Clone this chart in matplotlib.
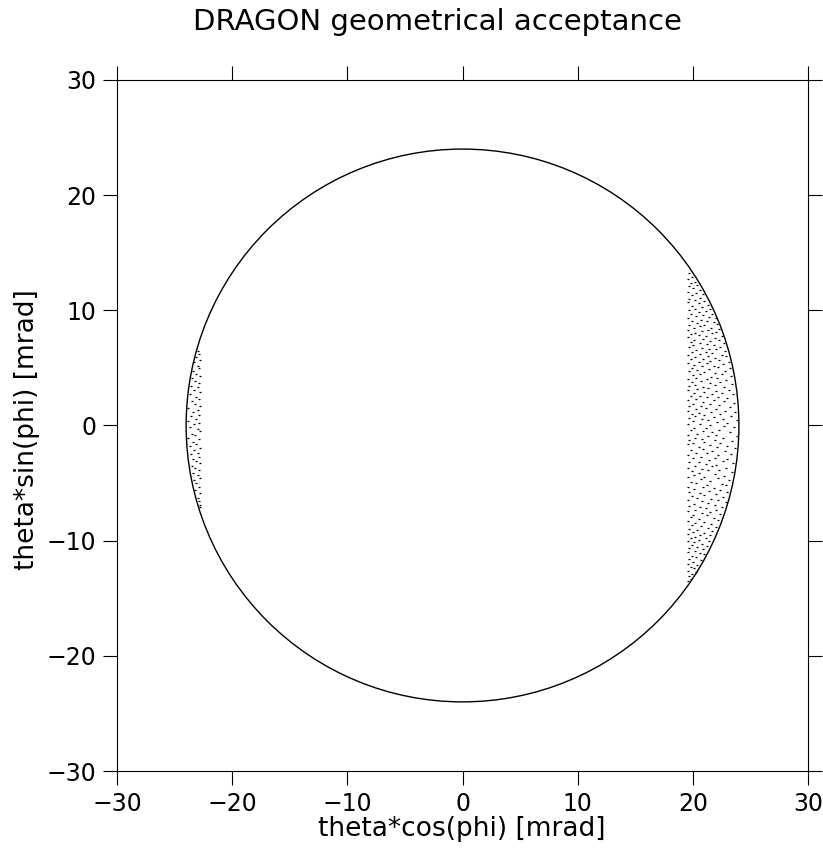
import matplotlib
matplotlib.use("Agg")
import matplotlib.pyplot as plt
from matplotlib.patches import Circle

# acceptance boundary (mrad)
circle_radius = 24.0
axis_limits = (-30, 30)
tick_values = [-30, -20, -10, 0, 10, 20, 30]

# accepted events, right-hand band: (theta*cos(phi), theta*sin(phi)) in mrad
right_pts = [
    (19.7, 13.2), (19.9, 12.9), (19.6, 12.7), (20.2, 12.5), (19.8, 12.4), (20.4, 12.2), (19.7, 12.1),
    (20.0, 11.9), (20.6, 11.8), (19.6, 11.6), (20.3, 11.5), (20.9, 11.4), (19.9, 11.3), (20.6, 11.1),
    (19.7, 11.0), (20.2, 10.9), (21.0, 10.8), (19.6, 10.7), (20.5, 10.6), (21.3, 10.5), (19.9, 10.4),
    (20.8, 10.3), (20.2, 10.15), (21.5, 10.1), (19.7, 10.0), (21.1, 9.95), (20.5, 9.85),
    (19.8, 9.7), (21.7, 9.7), (20.9, 9.6), (20.3, 9.5), (21.4, 9.4), (19.6, 9.35), (22.0, 9.3),
    (20.7, 9.2), (21.2, 9.1), (19.9, 9.05), (21.8, 8.95), (20.4, 8.9), (22.1, 8.8), (19.7, 8.75),
    (21.0, 8.7), (20.6, 8.6), (21.6, 8.5), (20.1, 8.45), (22.3, 8.4), (19.6, 8.3), (21.3, 8.3),
    (20.8, 8.2), (22.0, 8.15), (20.2, 8.05), (21.7, 8.0), (19.8, 7.95),
    (20.5, 7.85), (22.5, 7.8), (21.1, 7.75), (19.6, 7.65), (21.9, 7.6), (20.9, 7.5), (20.1, 7.45),
    (22.3, 7.4), (21.5, 7.35), (19.8, 7.25), (20.6, 7.2), (22.7, 7.15), (21.2, 7.05), (20.0, 7.0),
    (21.8, 6.95), (22.4, 6.85), (19.7, 6.8), (20.8, 6.75), (21.4, 6.65), (22.0, 6.6), (20.3, 6.55),
    (22.8, 6.5), (19.9, 6.4), (21.1, 6.35), (21.7, 6.3), (20.6, 6.2), (22.5, 6.15), (19.6, 6.1),
    (21.3, 6.05), (22.9, 6.0),
    (20.2, 5.95), (21.9, 5.9), (20.9, 5.8), (19.8, 5.75), (22.3, 5.7), (21.5, 5.6), (20.5, 5.55),
    (23.1, 5.5), (19.6, 5.45), (21.2, 5.4), (22.6, 5.35), (20.1, 5.25), (21.8, 5.2), (20.8, 5.15),
    (22.2, 5.05), (19.9, 5.0), (23.2, 4.95), (21.4, 4.9), (20.4, 4.85), (22.8, 4.75), (19.7, 4.7),
    (21.0, 4.65), (21.9, 4.55), (20.6, 4.5), (22.5, 4.45), (20.0, 4.35), (23.3, 4.3), (21.6, 4.25),
    (20.3, 4.15), (22.1, 4.1), (19.6, 4.05), (21.2, 4.0), (22.9, 3.95),
    (20.7, 3.9), (19.9, 3.8), (22.4, 3.75), (21.5, 3.7), (23.4, 3.6), (20.2, 3.55), (21.9, 3.5),
    (19.7, 3.4), (20.9, 3.35), (22.7, 3.3), (21.3, 3.25), (20.4, 3.15), (23.1, 3.1), (19.6, 3.05),
    (22.0, 3.0), (21.0, 2.95), (20.1, 2.85), (22.5, 2.8), (21.7, 2.75), (23.5, 2.7), (19.8, 2.6),
    (20.6, 2.55), (22.2, 2.5), (21.2, 2.45), (23.0, 2.35), (20.3, 2.3), (19.6, 2.2), (21.8, 2.2),
    (22.7, 2.1), (20.9, 2.05),
    (23.6, 1.95), (20.0, 1.9), (21.5, 1.85), (22.3, 1.75), (19.7, 1.7), (20.7, 1.65), (23.2, 1.6),
    (21.1, 1.5), (22.0, 1.45), (20.3, 1.4), (19.6, 1.3), (22.8, 1.3), (21.6, 1.2), (23.7, 1.15),
    (20.5, 1.1), (19.9, 1.0), (22.4, 1.0), (21.0, 0.9), (23.3, 0.85), (20.2, 0.8), (21.8, 0.75),
    (19.7, 0.65), (22.6, 0.6), (20.8, 0.55), (23.8, 0.5), (21.3, 0.45), (20.0, 0.35), (22.1, 0.3),
    (23.0, 0.25), (19.6, 0.15), (20.6, 0.1), (21.5, 0.05),
    (22.7, -0.05), (23.6, -0.1), (20.1, -0.2), (21.1, -0.25), (19.8, -0.35), (22.3, -0.4), (20.9, -0.5),
    (23.2, -0.55), (21.7, -0.6), (20.4, -0.7), (19.6, -0.8), (22.0, -0.8), (23.8, -0.9), (21.3, -0.95),
    (20.2, -1.05), (22.6, -1.1), (20.8, -1.2), (19.7, -1.25), (21.9, -1.3), (23.4, -1.35), (21.0, -1.45),
    (20.0, -1.5), (22.4, -1.55), (19.6, -1.65), (21.5, -1.7), (23.0, -1.75), (20.5, -1.85), (22.1, -1.9),
    (23.7, -1.95),
    (20.9, -2.05), (19.8, -2.1), (21.7, -2.2), (22.8, -2.25), (20.3, -2.35), (21.2, -2.4), (23.3, -2.5),
    (19.6, -2.55), (22.2, -2.6), (20.7, -2.7), (21.9, -2.8), (20.0, -2.85), (23.0, -2.9), (21.4, -3.0),
    (22.6, -3.05), (19.7, -3.15), (20.5, -3.2), (23.5, -3.25), (21.1, -3.35), (22.0, -3.4), (20.2, -3.5),
    (21.7, -3.55), (19.6, -3.65), (22.9, -3.7), (20.8, -3.75), (22.3, -3.85), (21.3, -3.9), (19.9, -3.95),
    (23.4, -4.05), (20.5, -4.1), (21.9, -4.2), (20.1, -4.3), (22.7, -4.35), (21.0, -4.45), (19.6, -4.5),
    (22.2, -4.6), (20.7, -4.65), (23.1, -4.75), (21.5, -4.8), (19.8, -4.9), (20.3, -5.0), (22.5, -5.05),
    (21.2, -5.15), (22.9, -5.2), (19.6, -5.3), (20.9, -5.35), (21.8, -5.45), (20.1, -5.5), (22.4, -5.6),
    (21.4, -5.65), (19.7, -5.75), (23.0, -5.8), (20.6, -5.85), (22.0, -5.95),
    (21.0, -6.05), (19.9, -6.1), (22.6, -6.2), (20.4, -6.3), (21.6, -6.35), (19.6, -6.45), (22.2, -6.5),
    (20.8, -6.6), (22.9, -6.65), (21.3, -6.75), (20.1, -6.8), (21.9, -6.9), (19.7, -7.0), (20.6, -7.05),
    (22.5, -7.1), (21.1, -7.2), (20.2, -7.3), (22.0, -7.35), (19.6, -7.45), (21.5, -7.5), (20.8, -7.6),
    (22.4, -7.65), (20.0, -7.75), (21.2, -7.8), (19.8, -7.95),
    (21.8, -8.0), (20.5, -8.1), (22.2, -8.2), (19.6, -8.3), (21.0, -8.35), (20.2, -8.45), (21.6, -8.55),
    (19.9, -8.65), (20.7, -8.7), (22.0, -8.8), (21.3, -8.9), (19.7, -8.95), (20.4, -9.05), (21.7, -9.15),
    (20.0, -9.25), (21.0, -9.3), (19.6, -9.4), (20.6, -9.5), (21.5, -9.55), (20.2, -9.65), (19.8, -9.75),
    (21.1, -9.8), (20.5, -9.9),
    (19.6, -10.0), (21.4, -10.05), (20.1, -10.15), (20.8, -10.25), (19.9, -10.35), (21.2, -10.45),
    (20.4, -10.55), (19.7, -10.65), (20.9, -10.75), (20.2, -10.9), (19.6, -11.0), (20.6, -11.1),
    (21.0, -11.2), (19.9, -11.3), (20.3, -11.45), (19.7, -11.6), (20.7, -11.7), (20.0, -11.85),
    (19.6, -12.0), (20.4, -12.1), (19.8, -12.25), (20.1, -12.4), (19.6, -12.6), (20.3, -12.75),
    (19.9, -12.9), (19.7, -13.1), (19.8, -13.3), (19.6, -13.5),
]

# accepted events, left-hand band
left_pts = [
    (-23.0, 6.45), (-22.9, 6.2), (-23.1, 5.95), (-22.8, 5.7), (-23.3, 5.5), (-23.0, 5.2), (-22.85, 5.0),
    (-23.4, 4.75), (-23.1, 4.5), (-22.8, 4.3), (-23.5, 4.1),
    (-23.2, 3.9), (-22.9, 3.7), (-23.6, 3.45), (-23.0, 3.3), (-23.3, 3.05), (-22.8, 2.9), (-23.7, 2.7),
    (-23.1, 2.5), (-22.9, 2.3), (-23.5, 2.1), (-23.2, 1.9), (-22.8, 1.7), (-23.8, 1.5), (-23.0, 1.35),
    (-23.4, 1.15), (-22.85, 0.95), (-23.6, 0.8), (-23.1, 0.6), (-23.8, 0.4), (-22.9, 0.25), (-23.3, 0.1),
    (-23.7, -0.1), (-23.0, -0.3), (-22.8, -0.5), (-23.5, -0.7), (-23.2, -0.85), (-23.85, -1.05),
    (-22.9, -1.2), (-23.4, -1.4), (-23.1, -1.6), (-23.7, -1.8), (-22.8, -1.95), (-23.3, -2.15),
    (-23.0, -2.35), (-23.6, -2.5), (-22.9, -2.7), (-23.4, -2.9), (-23.1, -3.1), (-22.8, -3.3),
    (-23.5, -3.5), (-23.2, -3.7), (-22.9, -3.9),
    (-23.4, -4.1), (-23.0, -4.3), (-22.8, -4.55), (-23.3, -4.75), (-23.1, -5.0), (-22.9, -5.3),
    (-23.2, -5.6), (-22.8, -5.9), (-23.0, -6.3), (-22.9, -6.6), (-22.8, -6.9), (-22.8, -7.1),
]

plt.rcParams['font.family'] = ['DejaVu Sans']

fig = plt.figure(figsize=(8.23, 8.48), dpi=100)
ax = fig.add_axes([0.1422, 0.0908, 0.8396, 0.8149])

ax.add_patch(Circle((0, 0), circle_radius, fill=False, ec='black', lw=1.0))

# events drawn as tiny dashes
for pts in (right_pts, left_pts):
    xs = [p[0] for p in pts]
    ys = [p[1] for p in pts]
    ax.scatter(xs, ys, marker='_', s=3.5, lw=0.9, c='black')

ax.set_xlim(*axis_limits)
ax.set_ylim(*axis_limits)
ax.set_xticks(tick_values)
ax.set_yticks(tick_values)
ax.tick_params(direction='out', length=10, width=0.8, labelsize=17, pad=5,
               top=True, right=True, labeltop=False, labelright=False)
for s in ax.spines.values():
    s.set_linewidth(0.8)

fig.text(0.531, 0.974, "DRAGON geometrical acceptance", ha='center', va='center', fontsize=21)
fig.text(0.561, 0.022, "theta*cos(phi) [mrad]", ha='center', va='center', fontsize=19)
fig.text(0.033, 0.493, "theta*sin(phi) [mrad]", ha='center', va='center', rotation=90, fontsize=19)

fig.savefig("out.png", dpi=100)
